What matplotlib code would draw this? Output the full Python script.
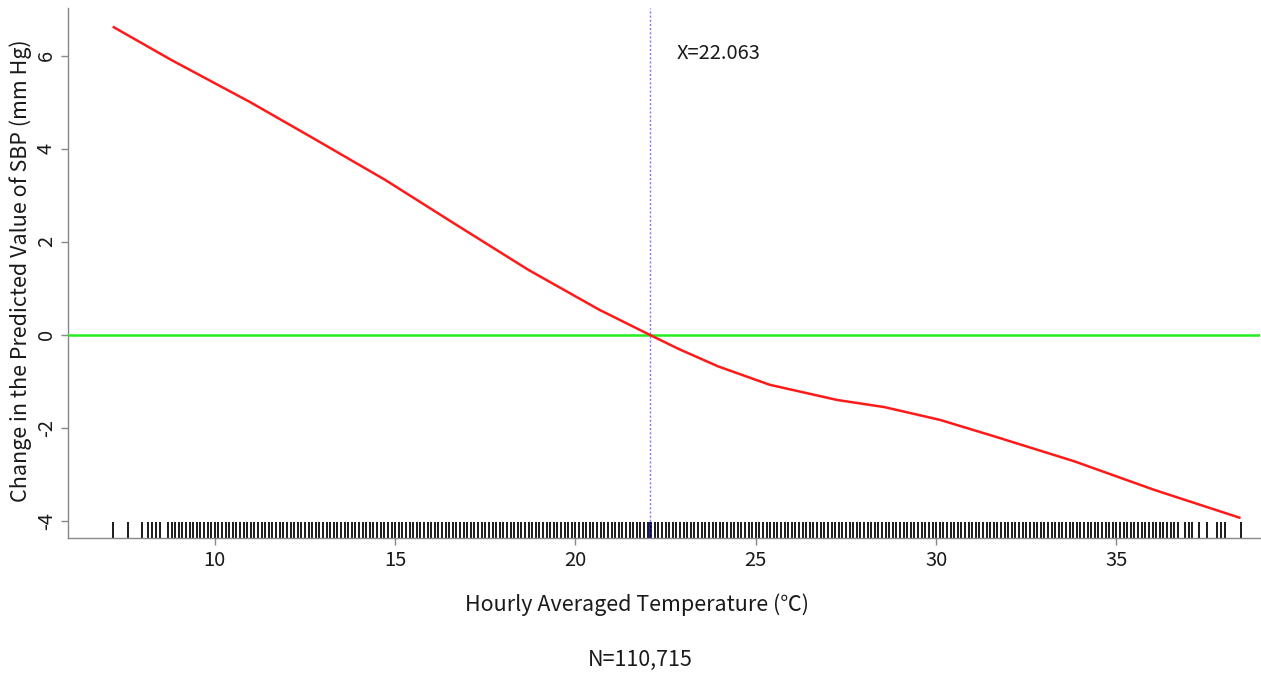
import numpy as np
import matplotlib
matplotlib.use("Agg")
import matplotlib.pyplot as plt
import matplotlib.transforms as mtransforms

# ---- data ----
temp = [7.17, 8.80, 10.97, 12.75, 14.73, 16.71, 18.69, 20.66, 22.06, 22.88,
        23.96, 25.39, 27.25, 28.57, 30.11, 31.64, 33.83, 36.03, 38.44]
sbp_change = [6.63, 5.91, 5.01, 4.22, 3.33, 2.36, 1.40, 0.54, 0.0, -0.31,
              -0.68, -1.075, -1.40, -1.555, -1.83, -2.19, -2.72, -3.33, -3.94]

threshold = 22.063

# observed temperatures shown in the rug
rug_sparse = [7.17, 7.58, 7.98, 8.15, 8.27, 8.36, 8.48,
              36.6, 36.7, 36.9, 37.0, 37.1, 37.3, 37.5, 37.78, 37.9, 38.0, 38.44]
# dense block of observed values, in tenths of a degree
rug_dense_tenths = [
    87, 88, 89, 90, 91, 92, 93, 94, 95, 96, 97, 98, 99,
    100, 101, 102, 103, 104, 105, 106, 107, 108, 109, 110, 111, 112, 113, 114, 115, 116, 117, 118, 119,
    120, 121, 122, 123, 124, 125, 126, 127, 128, 129, 130, 131, 132, 133, 134, 135, 136, 137, 138, 139,
    140, 141, 142, 143, 144, 145, 146, 147, 148, 149, 150, 151, 152, 153, 154, 155, 156, 157, 158, 159,
    160, 161, 162, 163, 164, 165, 166, 167, 168, 169, 170, 171, 172, 173, 174, 175, 176, 177, 178, 179,
    180, 181, 182, 183, 184, 185, 186, 187, 188, 189, 190, 191, 192, 193, 194, 195, 196, 197, 198, 199,
    200, 201, 202, 203, 204, 205, 206, 207, 208, 209, 210, 211, 212, 213, 214, 215, 216, 217, 218, 219,
    220, 221, 222, 223, 224, 225, 226, 227, 228, 229, 230, 231, 232, 233, 234, 235, 236, 237, 238, 239,
    240, 241, 242, 243, 244, 245, 246, 247, 248, 249, 250, 251, 252, 253, 254, 255, 256, 257, 258, 259,
    260, 261, 262, 263, 264, 265, 266, 267, 268, 269, 270, 271, 272, 273, 274, 275, 276, 277, 278, 279,
    280, 281, 282, 283, 284, 285, 286, 287, 288, 289, 290, 291, 292, 293, 294, 295, 296, 297, 298, 299,
    300, 301, 302, 303, 304, 305, 306, 307, 308, 309, 310, 311, 312, 313, 314, 315, 316, 317, 318, 319,
    320, 321, 322, 323, 324, 325, 326, 327, 328, 329, 330, 331, 332, 333, 334, 335, 336, 337, 338, 339,
    340, 341, 342, 343, 344, 345, 346, 347, 348, 349, 350, 351, 352, 353, 354, 355, 356, 357, 358, 359,
    360, 361, 362, 363, 364, 365,
]

x_ticks = [10, 15, 20, 25, 30, 35]
y_ticks = [-4, -2, 0, 2, 4, 6]

x_label = "Hourly Averaged Temperature (\u2103)"
y_label = "Change in the Predicted Value of SBP (mm Hg)"
thr_label = "X=22.063"
n_label = "N=110,715"

# ---- figure ----
plt.rcParams['font.family'] = ['Noto Sans CJK SC', 'DejaVu Sans']
TXT = '#1a1a1a'
fig = plt.figure(figsize=(12.61, 6.75), dpi=100)
ax = fig.add_axes([68 / 1261, 137 / 675, 1192 / 1261, 530 / 675])

ax.set_xlim(5.93, 38.98)
ax.set_ylim(-4.37, 7.03)

# rug
rug_vals = sorted(rug_sparse + [v / 10 for v in rug_dense_tenths])
trans = mtransforms.blended_transform_factory(ax.transData, ax.transAxes)
ax.vlines(rug_vals, 0, 0.031, transform=trans, colors='#000000', lw=1.25, zorder=2)

# reference lines
ax.axhline(0, color='#22ee22', lw=1.8, zorder=3)
ax.axvline(threshold, color='#7777ff', lw=1.0, ls=(0, (1.5, 1.5)), zorder=3)
ax.vlines([threshold], 0, 0.031, transform=trans, colors='#000088', lw=1.2, zorder=4)

# fitted curve
ax.plot(temp, sbp_change, color='#ff1a1a', lw=1.8, zorder=5,
        solid_joinstyle='round', solid_capstyle='butt')

ax.text(22.8, 6.06, thr_label, fontsize=14.5, color=TXT, va='center', ha='left')

# axes styling
for side in ['top', 'right']:
    ax.spines[side].set_visible(False)
for side in ['left', 'bottom']:
    ax.spines[side].set_color('#888888')
    ax.spines[side].set_linewidth(1.0)

ax.set_xticks(x_ticks)
ax.set_yticks(y_ticks)
ax.set_xticklabels([str(t) for t in x_ticks])
ax.set_yticklabels([str(t) for t in y_ticks], rotation=90, va='center')
ax.tick_params(axis='both', colors='#888888', labelcolor=TXT, length=5,
               width=1.0, labelsize=14.5)
ax.tick_params(axis='x', pad=4)
ax.tick_params(axis='y', pad=3)

ax.set_ylabel(y_label, fontsize=15.5, color=TXT, va='center')
ax.yaxis.set_label_coords(-0.0394, 0.505)

fig.text(637 / 1261, 1 - 605 / 675, x_label, fontsize=15.5, color=TXT,
         ha='center', va='center')
fig.text(640 / 1261, 1 - 660 / 675, n_label, fontsize=15.5, color=TXT,
         ha='center', va='center')

fig.savefig("out.png", dpi=100)
